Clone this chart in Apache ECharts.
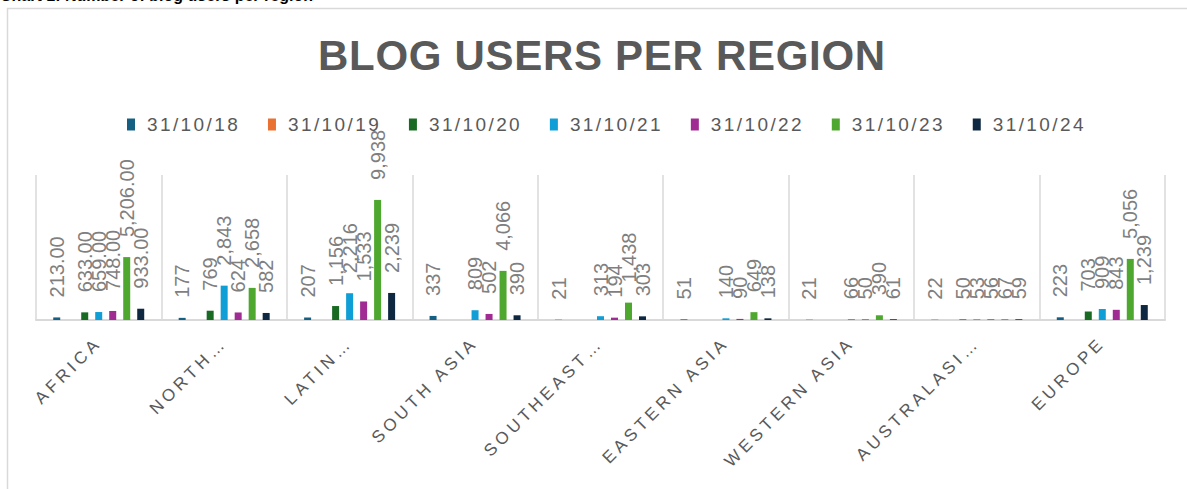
<!DOCTYPE html>
<html>
<head>
<meta charset="utf-8">
<script src="https://cdn.jsdelivr.net/npm/echarts@6/dist/echarts.min.js"></script>
<style>
  html, body { margin: 0; padding: 0; background: #fff; }
  #chart { width: 1187px; height: 489px; }
  /* zrender has no letter spacing, svg text takes it from css (matched by font size) */
  #chart text[style*="42px"] { letter-spacing: 0.7px; }
  #chart text[style*="19px"] { letter-spacing: 2.4px; }
  #chart text[style*="17px"] { letter-spacing: 4px; }
</style>
</head>
<body>
<div id="chart"></div>
<script>
const regions = ['AFRICA', 'NORTH…', 'LATIN…', 'SOUTH ASIA', 'SOUTHEAST…', 'EASTERN ASIA', 'WESTERN ASIA', 'AUSTRALASI…', 'EUROPE'];
const dates = ['31/10/18', '31/10/19', '31/10/20', '31/10/21', '31/10/22', '31/10/23', '31/10/24'];

const v18 = [213, 177, 207, 337, 21, 51, 21, 22, 223];
const v19 = [null, null, null, null, null, null, null, null, null];
const v20 = [633, 769, 1156, null, null, null, null, 50, 703];
const v21 = [659, 2843, 2216, 809, 313, 140, 66, 53, 909];
const v22 = [748, 624, 1533, 502, 194, 90, 50, 56, 843];
const v23 = [5206, 2658, 9938, 4066, 1438, 649, 390, 67, 5056];
const v24 = [933, 582, 2239, 390, 303, 138, 61, 59, 1239];
const values = [v18, v19, v20, v21, v22, v23, v24];

const font = 'Liberation Sans';

const chart = echarts.init(document.getElementById('chart'), null, { renderer: 'svg' });

// africa row is shown with two decimals in the source sheet
function labelText(p) {
    if (p.value == null) return '';
    if (p.dataIndex === 0) {
        return p.value.toLocaleString('en-US', { minimumFractionDigits: 2, maximumFractionDigits: 2 });
    }
    return p.value.toLocaleString('en-US');
}

const option = {
    animation: false,
    color: ['#156082', '#E97132', '#196B24', '#0F9ED5', '#A02B93', '#4EA72E', '#0E2841'],
    title: {
        text: 'BLOG USERS PER REGION',
        left: 313,
        top: 29,
        textStyle: {
            fontFamily: font,
            fontSize: 42,
            fontWeight: 'bold',
            color: '#595959'
        }
    },
    legend: {
        left: 122,
        top: 110,
        itemWidth: 8,
        itemHeight: 12,
        itemGap: 47,
        icon: 'rect',
        textStyle: {
            fontFamily: font,
            fontSize: 19,
            color: '#595959',
            padding: [0, 0, 0, 7]
        },
        data: dates
    },
    grid: {
        left: 36,
        right: 22,
        top: 175,
        bottom: 169,
        containLabel: false,
        outerBoundsMode: 'none'
    },
    xAxis: {
        type: 'category',
        data: regions,
        axisTick: { show: false },
        axisLine: { lineStyle: { color: '#d9d9d9', width: 2 } },
        splitLine: { show: true, interval: 0, lineStyle: { color: '#d9d9d9', width: 1.5 } },
        axisLabel: {
            interval: 0,
            rotate: 45,
            margin: 20,
            fontFamily: font,
            fontSize: 17,
            color: '#595959'
        }
    },
    yAxis: {
        type: 'value',
        min: 0,
        max: 12000,
        show: false
    },
    graphic: [
        {
            type: 'rect',
            shape: { x: 7.5, y: 8.5, width: 1200, height: 500 },
            style: { fill: 'none', stroke: '#d9d9d9', lineWidth: 1.5 },
            silent: true
        },
        {
            type: 'text',
            left: 0,
            top: -13,
            style: {
                text: 'Chart 1: Number of blog users per region',
                fontFamily: font,
                fontSize: 16,
                fontWeight: 'bold',
                fill: '#000'
            },
            silent: true
        }
    ],
    series: dates.map((d, i) => ({
        name: d,
        type: 'bar',
        data: values[i],
        barWidth: 7,
        barGap: '100%',
        label: {
            show: true,
            position: 'top',
            distance: 20,
            rotate: 90,
            align: 'left',
            verticalAlign: 'middle',
            fontFamily: font,
            fontSize: 20,
            color: '#7f7f7f',
            formatter: labelText
        }
    }))
};

chart.setOption(option);
</script>
</body>
</html>
